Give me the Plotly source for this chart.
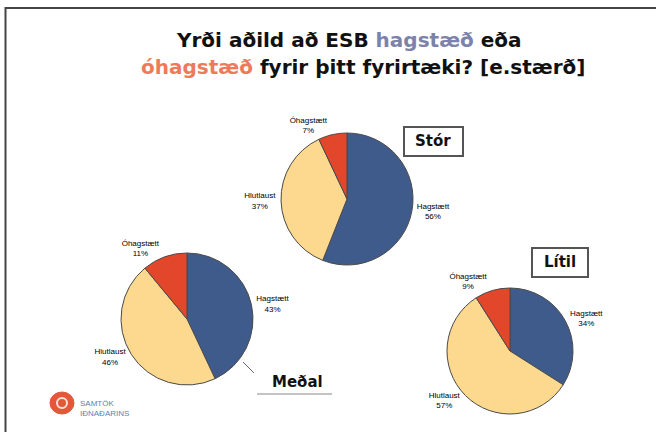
import plotly.graph_objects as go

W, H = 656, 432

categories = ["Hagstætt", "Hlutlaust", "Óhagstætt"]
stor_values = [56, 37, 7]
medal_values = [43, 46, 11]
litil_values = [34, 57, 9]
group_names = ["Stór", "Meðal", "Lítil"]

colors = ["#3f5b8c", "#fcd98e", "#e2472c"]


def px_dom(cx, cy, r):
    return dict(x=[(cx - r) / W, (cx + r) / W], y=[1 - (cy + r) / H, 1 - (cy - r) / H])


def px(x, y):
    return x / W, 1 - y / H


fig = go.Figure()
for vals, (cx, cy, r) in zip(
    [stor_values, medal_values, litil_values],
    [(347, 199, 66), (187, 319, 66), (510, 351, 63)],
):
    fig.add_trace(go.Pie(
        labels=categories, values=vals, sort=False, direction="clockwise", rotation=0,
        marker=dict(colors=colors, line=dict(color="#4a4a4a", width=1)),
        texttemplate="%{label}<br>%{value}%", textposition="outside",
        outsidetextfont=dict(size=8, color="#000", family="Liberation Sans"),
        domain=px_dom(cx, cy, r), showlegend=False, hoverinfo="label+value",
    ))


def ann(x, y, text, size, **kw):
    ax, ay = px(x, y)
    d = dict(x=ax, y=ay, text=text, showarrow=False, xref="paper", yref="paper",
             xanchor="center", yanchor="middle",
             font=dict(size=size, family="DejaVu Sans", color="#111", weight="bold"))
    d.update(kw)
    return d


annotations = [
    ann(349, 40, "Yrði aðild að ESB <span style='color:#7d82aa'>hagstæð</span> eða", 20),
    ann(363, 67, "<span style='color:#ee7a5c'>óhagstæð</span> fyrir þitt fyrirtæki? [e.stærð]", 20),
    ann(433, 141, group_names[0], 15),
    ann(297, 382, group_names[1], 15),
    ann(560, 262, group_names[2], 15),
    ann(78, 408, "SAMTÖK<br>IÐNAÐARINS", 8, xanchor="left", align="left",
        font=dict(size=8, family="Liberation Sans", color="#5b7fb8")),
]


def rect(x0, y0, x1, y1, **kw):
    a0, b0 = px(x0, y0)
    a1, b1 = px(x1, y1)
    d = dict(type="rect", xref="paper", yref="paper", x0=a0, x1=a1, y0=b1, y1=b0)
    d.update(kw)
    return d


def line(x0, y0, x1, y1, **kw):
    a0, b0 = px(x0, y0)
    a1, b1 = px(x1, y1)
    d = dict(type="line", xref="paper", yref="paper", x0=a0, x1=a1, y0=b0, y1=b1)
    d.update(kw)
    return d


shapes = [
    rect(5.5, 8, 665, 440, line=dict(color="#444", width=2)),
    rect(404, 127, 463, 156, line=dict(color="#555", width=2)),
    rect(532, 248, 588, 277, line=dict(color="#555", width=2)),
    line(257, 394, 332, 394, line=dict(color="#888", width=1)),
    line(243, 362, 254, 373, line=dict(color="#666", width=1)),
    dict(type="circle", xref="paper", yref="paper", x0=50 / W, x1=74 / W, y0=1 - 414 / H, y1=1 - 392 / H,
         fillcolor="#e4583a", line=dict(color="#e4583a", width=1)),
    dict(type="circle", xref="paper", yref="paper", x0=57 / W, x1=67 / W, y0=1 - 408 / H, y1=1 - 398 / H,
         fillcolor="rgba(0,0,0,0)", line=dict(color="#fbe0d6", width=2)),
]

fig.update_layout(
    width=W, height=H, margin=dict(l=0, r=0, t=0, b=0),
    paper_bgcolor="white", plot_bgcolor="white",
    annotations=annotations, shapes=shapes,
)

fig.write_html("out.html", config={"displayModeBar": False},
               post_script="document.body.style.margin='0';")
